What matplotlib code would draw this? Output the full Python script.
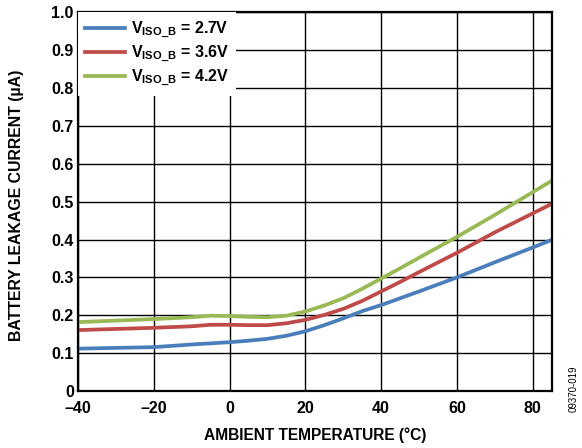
import matplotlib
matplotlib.use('Agg')
import matplotlib.pyplot as plt

plt.rcParams['font.family'] = ['Liberation Sans', 'DejaVu Sans']
plt.rcParams['mathtext.fontset'] = 'custom'
plt.rcParams['mathtext.rm'] = 'Liberation Sans:bold'
plt.rcParams['mathtext.bf'] = 'Liberation Sans:bold'

# temperature (°C) and leakage current (µA)
temp = [-40, -30, -20, -10, -5, 0, 5, 10, 15, 20, 25, 30, 35, 40, 45, 50, 60, 70, 80, 85]
leak_27 = [0.112, 0.114, 0.116, 0.123, 0.126, 0.129, 0.133, 0.138, 0.146, 0.158,
           0.174, 0.192, 0.211, 0.227, 0.245, 0.263, 0.300, 0.340, 0.379, 0.399]
leak_36 = [0.161, 0.164, 0.167, 0.171, 0.175, 0.175, 0.174, 0.174, 0.179, 0.188,
           0.201, 0.217, 0.238, 0.263, 0.288, 0.314, 0.365, 0.419, 0.469, 0.494]
leak_42 = [0.182, 0.186, 0.190, 0.195, 0.199, 0.198, 0.196, 0.195, 0.199, 0.210,
           0.226, 0.245, 0.270, 0.297, 0.324, 0.352, 0.407, 0.465, 0.525, 0.555]

series = [
    (leak_27, r'V$_{\mathbf{ISO\_B}}$ = 2.7V', '#4a7ebb'),
    (leak_36, r'V$_{\mathbf{ISO\_B}}$ = 3.6V', '#be4b48'),
    (leak_42, r'V$_{\mathbf{ISO\_B}}$ = 4.2V', '#98b954'),
]

x_ticks = [-40, -20, 0, 20, 40, 60, 80]
x_labels = ['\u201340', '\u201320', '0', '20', '40', '60', '80']
y_ticks = [0, 0.1, 0.2, 0.3, 0.4, 0.5, 0.6, 0.7, 0.8, 0.9, 1.0]
y_labels = ['0', '0.1', '0.2', '0.3', '0.4', '0.5', '0.6', '0.7', '0.8', '0.9', '1.0']

fig = plt.figure(figsize=(5.82, 4.48), dpi=100)
ax = fig.add_axes([0.134, 0.127, 0.814, 0.846])

for v, lab, c in series:
    ax.plot(temp, v, color=c, lw=2.7, label=lab)

ax.set_xlim(-40, 85)
ax.set_ylim(0, 1.0)
ax.set_xticks(x_ticks)
ax.set_xticklabels(x_labels, fontweight='bold', fontsize=11.5)
ax.set_yticks(y_ticks)
ax.set_yticklabels(y_labels, fontweight='bold', fontsize=11.5)
ax.tick_params(axis='y', length=0, pad=3)
ax.tick_params(axis='x', length=0, pad=7)
ax.grid(True, color='black', lw=1.0)
ax.set_axisbelow(True)
for s in ax.spines.values():
    s.set_linewidth(1.6)

ax.set_xlabel('AMBIENT TEMPERATURE (\u00b0C)', fontweight='bold', fontsize=11.2)
ax.xaxis.set_label_coords(0.5, -0.097)
ax.set_ylabel('BATTERY LEAKAGE CURRENT (\u00b5A)', fontweight='bold', fontsize=11.4)
ax.yaxis.set_label_coords(-0.113, 0.49)

leg = ax.legend(loc='upper left', frameon=True, fancybox=False, framealpha=1,
                edgecolor='none', facecolor='white', fontsize=11.5,
                handlelength=2.5, handletextpad=0.35, borderaxespad=0.0,
                labelspacing=0.15, borderpad=0.45)
for txt in leg.get_texts():
    txt.set_fontweight('bold')

fig.text(0.985, 0.08, '09370-019', rotation=90, fontsize=7, ha='center', va='bottom')

fig.savefig('out.png', dpi=100)
